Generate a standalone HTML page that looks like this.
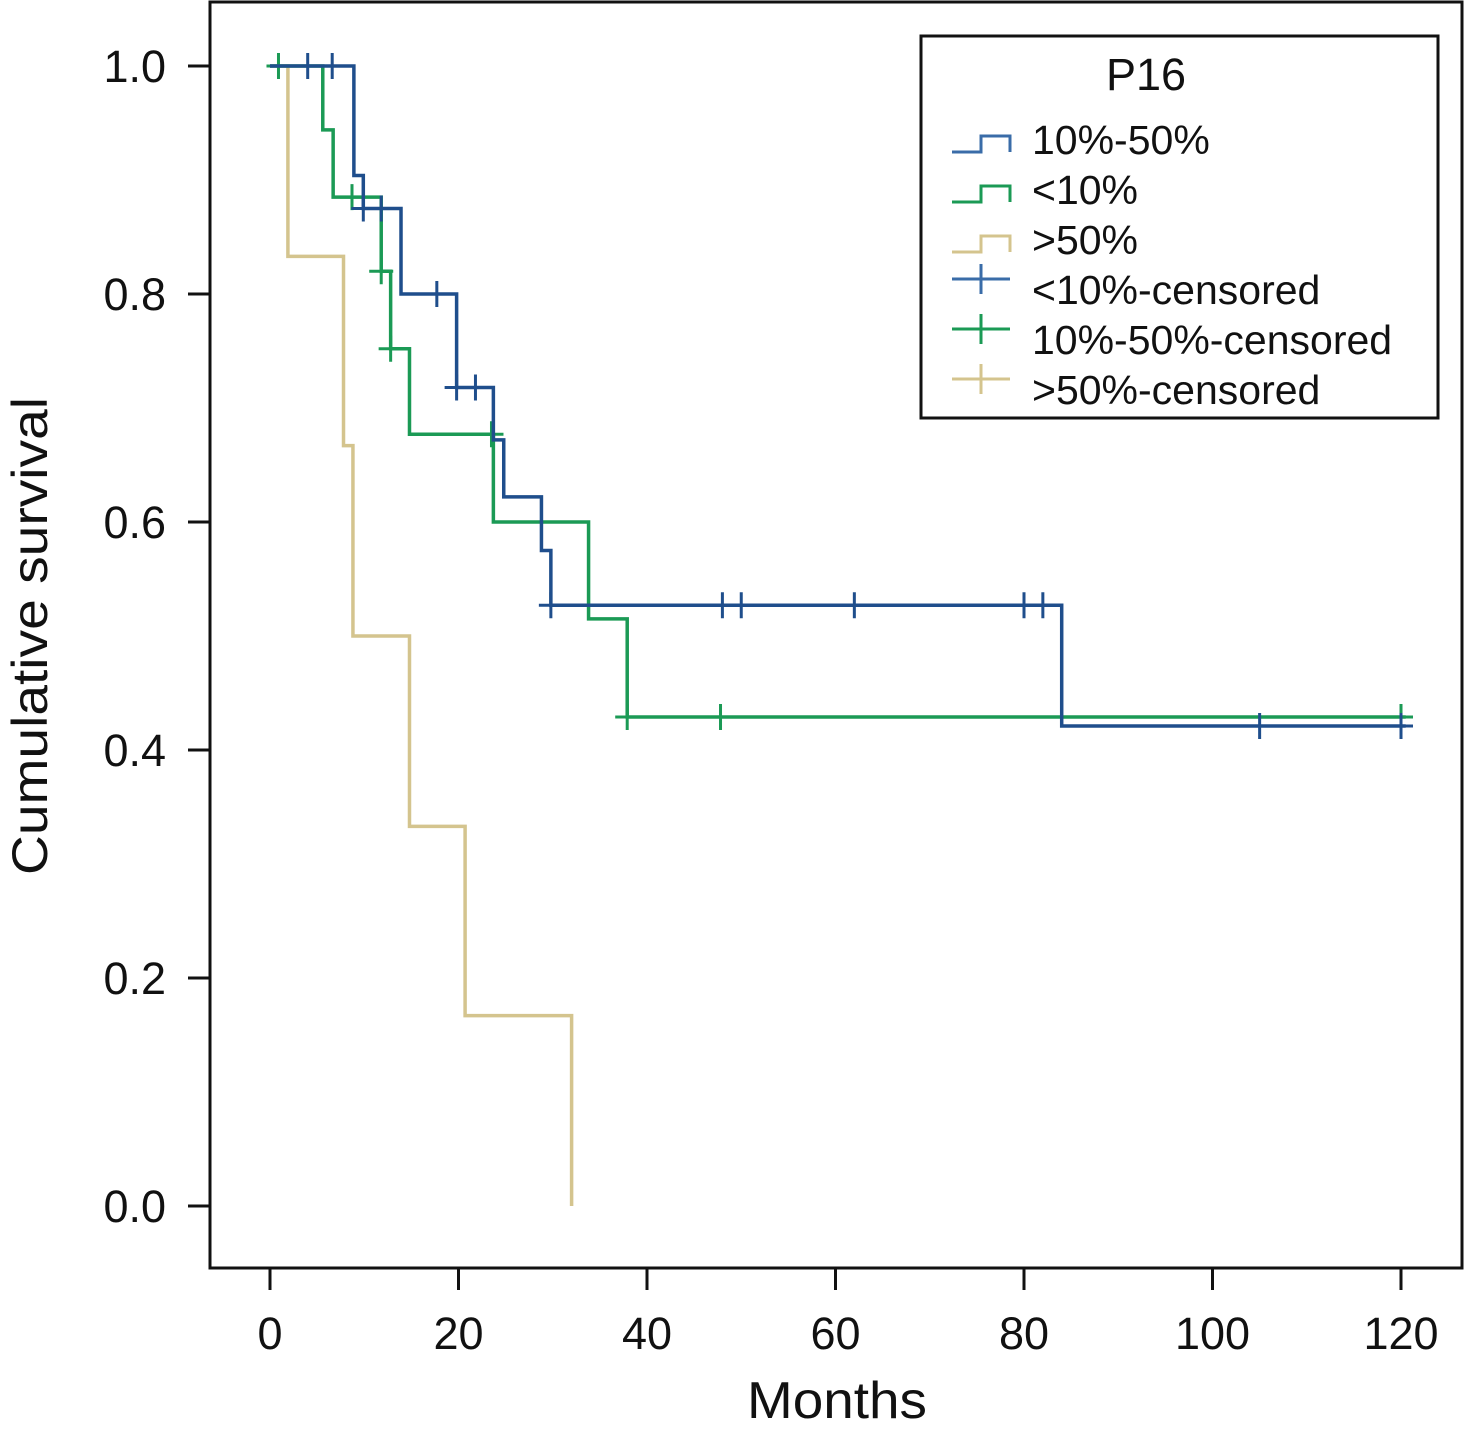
<!DOCTYPE html>
<html><head><meta charset="utf-8"><style>
html,body{margin:0;padding:0;background:#fff;}
svg{display:block;font-family:"Liberation Sans",Arial,sans-serif;}
</style></head><body>
<svg id="chart" width="1466" height="1445" viewBox="0 0 1466 1445">
<g id="axes"></g>
<g id="series"></g>
<g id="legend"></g>
</svg>
<script>
const xTicks=[0,20,40,60,80,100,120];
const yTicks=[0.0,0.2,0.4,0.6,0.8,1.0];
const yTickLabels=["0.0","0.2","0.4","0.6","0.8","1.0"];
// step series: event times and survival after each event
const blueTimes=[8.9,9.9,13.9,19.8,23.7,24.8,28.8,29.8,84];
const blueSurv=[0.904,0.875,0.80,0.718,0.672,0.622,0.575,0.527,0.421];
const blueEnd=120.5;
const blueCens=[4,6.6,9.9,11.8,17.7,19.8,21.8,29.8,48,50,62,80,82,105,120];
const greenTimes=[5.6,6.7,11.8,12.8,14.8,23.7,33.8,37.9];
const greenSurv=[0.944,0.885,0.82,0.752,0.677,0.60,0.515,0.429];
const greenEnd=120.5;
const greenCens=[0.9,8.7,11.8,12.8,23.5,37.9,47.8,120];
const tanTimes=[1.9,7.8,8.8,14.8,20.7,32];
const tanSurv=[0.833,0.667,0.5,0.333,0.167,0.0];
const tanEnd=32;
const tanCens=[];
const legendLabels=["10%-50%","<10%",">50%","<10%-censored","10%-50%-censored",">50%-censored"];

const NS="http://www.w3.org/2000/svg";
const X=v=>270+v*(1401-270)/120;
const Y=v=>1206-v*1140;
function mk(tag,attrs,parent){const e=document.createElementNS(NS,tag);for(const k in attrs)e.setAttribute(k,attrs[k]);parent.appendChild(e);return e;}
const axes=document.getElementById('axes'),series=document.getElementById('series'),legend=document.getElementById('legend');

let fr=mk('rect',{x:210,y:2,width:1252,height:1266,fill:'none',stroke:'#111','stroke-width':3},axes);


xTicks.forEach(t=>{
  let l=mk('line',{x1:X(t),x2:X(t),y1:1268,y2:1290,stroke:'#111','stroke-width':3},axes);
  
  
  let tx=mk('text',{x:X(t),y:1349,'text-anchor':'middle','font-size':45,fill:'#111'},axes);
  tx.textContent=t;
  
  
});
yTicks.forEach((t,i)=>{
  let l=mk('line',{x1:188,x2:210,y1:Y(t),y2:Y(t),stroke:'#111','stroke-width':3},axes);
  
  
  let tx=mk('text',{x:166,y:Y(t)+16,'text-anchor':'end','font-size':45,fill:'#111'},axes);
  tx.textContent=yTickLabels[i];
  
  
});
let xt=mk('text',{x:837,y:1418,'text-anchor':'middle','font-size':52,fill:'#111',textLength:180,lengthAdjust:'spacingAndGlyphs'},axes);
xt.textContent='Months';


let yt=mk('text',{x:0,y:0,'text-anchor':'middle','font-size':50,fill:'#111',transform:'translate(47,636) rotate(-90)',textLength:478,lengthAdjust:'spacingAndGlyphs'},axes);
yt.textContent='Cumulative survival';



function stepPath(times,surv,end){
  let d='M'+X(0)+','+Y(1);
  times.forEach((t,i)=>{d+=' H'+X(t)+' V'+Y(surv[i]);});
  d+=' H'+X(end);return d;
}
function survAt(times,surv,t){let s=1;times.forEach((tt,i)=>{if(tt<=t)s=surv[i];});return s;}
function draw(name,times,surv,end,cens,color){
  let p=mk('path',{d:stepPath(times,surv,end),fill:'none',stroke:color,'stroke-width':3.5},series);
  
  
  cens.forEach(c=>{
    const s=survAt(times,surv,c);
    let g=mk('path',{d:`M${X(c)-12},${Y(s)} H${X(c)+12} M${X(c)},${Y(s)-13} V${Y(s)+13}`,stroke:color,'stroke-width':3,fill:'none'},series);
    
    
  });
}
draw('tan',tanTimes,tanSurv,tanEnd,tanCens,'#d4c48e');
draw('green',greenTimes,greenSurv,greenEnd,greenCens,'#1b9a55');
draw('blue',blueTimes,blueSurv,blueEnd,blueCens,'#1f4e8c');

let lb=mk('rect',{x:921,y:36,width:517,height:382,fill:'#fff',stroke:'#111','stroke-width':3},legend);


let lt=mk('text',{x:1146,y:90,'text-anchor':'middle','font-size':45,fill:'#111'},legend);
lt.textContent='P16';


const lcol=['#3a6ca8','#1b9a55','#d4c48e','#3a6ca8','#1b9a55','#d4c48e'];
legendLabels.forEach((lab,i)=>{
  const base=154+i*50;
  let sym;
  if(i<3){sym=mk('path',{d:`M952,${base-2} H981 V${base-18} H1010 V${base-2}`,fill:'none',stroke:lcol[i],'stroke-width':3},legend);}
  else{const cy=base-25;sym=mk('path',{d:`M952,${cy} H1010 M981,${cy-15} V${cy+15}`,fill:'none',stroke:lcol[i],'stroke-width':3},legend);}
  
  
  let tx=mk('text',{x:1032,y:base,'font-size':41,fill:'#111'},legend);
  tx.textContent=lab;
  
  
});
</script>
</body></html>
